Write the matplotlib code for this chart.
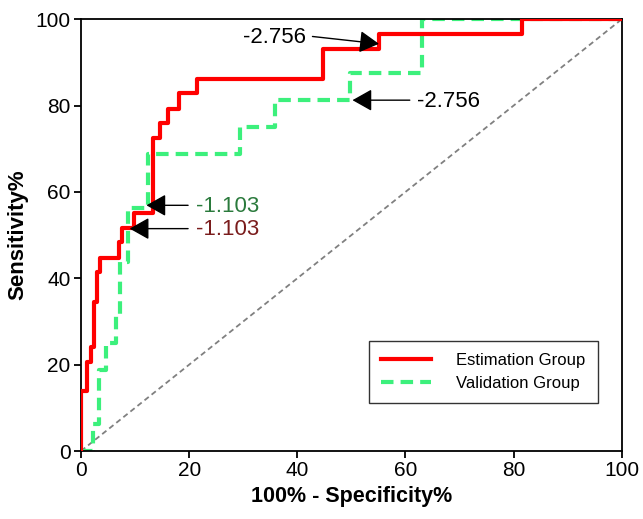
import matplotlib
matplotlib.use("Agg")
import matplotlib.pyplot as plt

plt.rcParams['font.family'] = ['Liberation Sans', 'DejaVu Sans']

# Estimation group ROC (step points: 100%-Specificity, Sensitivity)
est_x = [0, 0, 1.1, 1.1, 1.9, 1.9, 2.4, 2.4, 2.9, 2.9, 3.5, 3.5, 7.0, 7.0, 7.5, 7.5,
         9.8, 9.8, 13.4, 13.4, 14.6, 14.6, 16.1, 16.1, 18.2, 18.2, 21.4, 21.4,
         44.8, 44.8, 55.1, 55.1, 81.5, 81.5, 100]
est_y = [0, 13.8, 13.8, 20.7, 20.7, 24.1, 24.1, 34.5, 34.5, 41.4, 41.4, 44.8, 44.8, 48.3, 48.3, 51.7,
         51.7, 55.2, 55.2, 72.4, 72.4, 75.9, 75.9, 79.3, 79.3, 82.8, 82.8, 86.2,
         86.2, 93.1, 93.1, 96.6, 96.6, 100, 100]

# Validation group ROC
val_x = [0, 2.3, 2.3, 3.3, 3.3, 4.6, 4.6, 6.4, 6.4, 7.3, 7.3, 8.6, 8.6, 12.4, 12.4,
         29.4, 29.4, 35.9, 35.9, 49.8, 49.8, 63.0, 63.0, 100]
val_y = [0, 0, 6.25, 6.25, 18.75, 18.75, 25.0, 25.0, 31.25, 31.25, 43.75, 43.75, 56.25, 56.25, 68.75,
         68.75, 75.0, 75.0, 81.25, 81.25, 87.5, 87.5, 100, 100]

ref_line = [0, 100]

labels = ["Estimation Group", "Validation Group"]
x_ticks = [0, 20, 40, 60, 80, 100]
y_ticks = [0, 20, 40, 60, 80, 100]

# annotations: (text, tip_xy, tail_xy, color, side)
annots = [
    ("-2.756", (55.1, 94.3), (42.8, 96.0), "black", "right"),
    ("-2.756", (50.2, 81.25), (60.8, 81.25), "black", "left"),
    ("-1.103", (12.1, 56.9), (19.8, 56.9), "#2a7a3c", "left"),
    ("-1.103", (9.0, 51.5), (19.8, 51.5), "#7a1c1c", "left"),
]

fig = plt.figure(figsize=(6.43, 5.19), dpi=100)
ax = fig.add_axes([0.126, 0.131, 0.841, 0.832])

ax.plot(ref_line, ref_line, color="#808080", lw=1.3, ls=(0, (3, 2)), zorder=1)
ax.plot(val_x, val_y, color="#3cf07c", lw=3, ls=(0, (3, 1.7)), label=labels[1], zorder=2)
ax.plot(est_x, est_y, color="#ff0000", lw=3, label=labels[0], zorder=3)

for txt, tip, tpos, col, side in annots:
    ax.annotate("", xy=tip, xytext=tpos,
                arrowprops=dict(arrowstyle="-|>,head_length=0.8,head_width=0.45",
                                color="black", lw=1, mutation_scale=15,
                                shrinkA=0, shrinkB=0), zorder=5)
    if side == "right":
        ax.text(tpos[0] - 1.2, tpos[1] - 0.2, txt, color=col, fontsize=16,
                ha="right", va="center")
    else:
        ax.text(tpos[0] + 1.4, tpos[1] - 0.3, txt, color=col, fontsize=16,
                ha="left", va="center")

ax.set_xlim(0, 100)
ax.set_ylim(0, 100)
ax.set_xticks(x_ticks)
ax.set_yticks(y_ticks)
ax.tick_params(direction="out", length=5, width=1.3, labelsize=15, colors="black", pad=2.5)
for sp in ax.spines.values():
    sp.set_linewidth(1.3)
    sp.set_color("black")

ax.set_xlabel("100% - Specificity%", fontsize=15.5, fontweight="bold", labelpad=4)
ax.set_ylabel("Sensitivity%", fontsize=16, fontweight="bold", labelpad=5)

handles, labs = ax.get_legend_handles_labels()
leg = ax.legend(handles[::-1], labs[::-1], loc="lower right", bbox_to_anchor=(0.9556, 0.111),
                borderaxespad=0, fontsize=12, frameon=True, fancybox=False, edgecolor="black",
                handlelength=3.0, handletextpad=1.5, borderpad=0.75, labelspacing=0.45)
leg.get_frame().set_linewidth(1.0)

fig.savefig("out.png", dpi=100)
